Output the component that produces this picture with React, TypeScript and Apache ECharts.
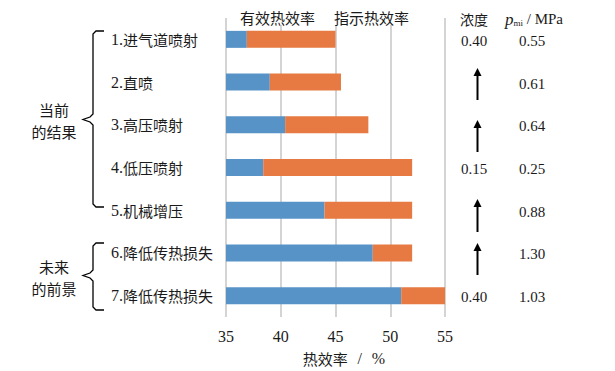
import React, { useEffect, useRef } from "react";
import * as echarts from "echarts";

const categories = ["1.进气道喷射", "2.直喷", "3.高压喷射", "4.低压喷射", "5.机械增压", "6.降低传热损失", "7.降低传热损失"];
const effective = [36.9, 39.0, 40.4, 38.4, 44.0, 48.4, 51.0];
const indicated = [45.0, 45.5, 48.0, 52.0, 52.0, 52.0, 55.0];
const concentration = ["0.40", "", "", "0.15", "", "", "0.40"];
const pmi = ["0.55", "0.61", "0.64", "0.25", "0.88", "1.30", "1.03"];
const xTicks = { min: 35, max: 55, interval: 5 };

const FONT = "Liberation Serif, Noto Sans CJK SC, serif";
const SERIF = "Liberation Serif";
const CJK = "Noto Sans CJK SC";
const BLUE = "#5893C8";
const ORANGE = "#E67A42";
const INK = "#1a1a1a";

function arrow(xc: number, tip: number, bottom: number) {
  return [
    { type: "line", shape: { x1: xc, y1: tip + 6, x2: xc, y2: bottom }, style: { stroke: "#000", lineWidth: 2 } },
    { type: "polygon", shape: { points: [[xc, tip], [xc - 4, tip + 8], [xc + 4, tip + 8]] }, style: { fill: "#000" } },
  ];
}

export default function App() {
  const ref = useRef<HTMLDivElement>(null);
  useEffect(() => {
    document.body.style.margin = "0";
    const chart = echarts.init(ref.current!, null, { renderer: "svg" });
    const diff = indicated.map((v, i) => +(v - effective[i]).toFixed(2));
    chart.setOption({
      animation: false,
      backgroundColor: "#fff",
      textStyle: { fontFamily: FONT },
      grid: { left: 226, right: 170, top: 18, bottom: 54 },
      legend: {
        data: ["有效热效率", "指示热效率"],
        icon: "none",
        itemWidth: 0,
        itemGap: 14,
        left: 233,
        top: 10,
        padding: [0, 2],
        backgroundColor: "#fff",
        textStyle: { fontSize: 15, color: INK, fontFamily: CJK },
        selectedMode: false,
      },
      xAxis: {
        type: "value",
        min: xTicks.min,
        max: xTicks.max,
        interval: xTicks.interval,
        axisLine: { show: false },
        axisTick: { show: false },
        splitLine: { show: true, lineStyle: { color: "#D4D4D4", width: 2 } },
        axisLabel: {
          margin: 11,
          formatter: (v: number) => `{v|${v}}`,
          rich: { v: { fontSize: 16, color: INK, fontFamily: SERIF } },
        },
        name: "{a|热效率}{s|   }{b|/}{s|   }{b|%}",
        nameLocation: "middle",
        nameGap: 33,
        nameTextStyle: {
          fontSize: 15,
          color: INK,
          rich: {
            a: { fontSize: 15, color: INK, fontFamily: CJK, padding: [0, 0, 0, 17] },
            s: { fontSize: 13, color: INK, fontFamily: SERIF },
            b: { fontSize: 16, color: INK, fontFamily: SERIF },
          },
        },
      },
      yAxis: [
        {
          type: "category",
          data: categories,
          inverse: true,
          axisLine: { show: false },
          axisTick: { show: false },
          splitLine: { show: false },
          axisLabel: {
            align: "left",
            margin: 115,
            formatter: (v: string) => {
              const m = v.match(/^(\d+\.)(.*)$/);
              return m ? `{n|${m[1]}}{t|${m[2]}}` : v;
            },
            rich: {
              n: { fontSize: 16, color: INK, fontFamily: SERIF },
              t: { fontSize: 15, color: INK, fontFamily: CJK },
            },
          },
        },
        {
          type: "category",
          data: categories,
          inverse: true,
          position: "right",
          axisLine: { show: false },
          axisTick: { show: false },
          splitLine: { show: false },
          axisLabel: {
            align: "left",
            margin: 16,
            formatter: (_v: string, i: number) => `{c|${concentration[i] || " "}}{p|${pmi[i]}}`,
            rich: {
              c: { width: 58, fontSize: 15, color: INK, fontFamily: SERIF, padding: [3, 0, 0, 0] },
              p: { fontSize: 15, color: INK, fontFamily: SERIF, padding: [3, 0, 0, 0] },
            },
          },
        },
      ],
      series: [
        {
          name: "有效热效率",
          type: "bar",
          stack: "t",
          barWidth: 17,
          data: effective,
          itemStyle: { color: BLUE },
        },
        {
          name: "指示热效率",
          type: "bar",
          stack: "t",
          barWidth: 17,
          data: diff,
          itemStyle: { color: ORANGE },
        },
      ],
      graphic: [
        {
          type: "polyline",
          shape: { points: [[104, 31], [96, 31], [93, 34], [93, 114], [90, 117], [83, 119.5], [90, 122], [93, 125], [93, 204], [96, 207], [104, 207]] },
          style: { stroke: "#000", lineWidth: 1.3, fill: null },
        },
        {
          type: "polyline",
          shape: { points: [[104, 243], [96, 243], [93, 246], [93, 270], [90, 273], [83, 275.5], [90, 278], [93, 281], [93, 307], [96, 310], [104, 310]] },
          style: { stroke: "#000", lineWidth: 1.3, fill: null },
        },
        { type: "text", x: 54, y: 109, style: { text: "当前", fontSize: 15, fill: INK, fontFamily: CJK, align: "center", verticalAlign: "middle" } },
        { type: "text", x: 54, y: 131, style: { text: "的结果", fontSize: 15, fill: INK, fontFamily: CJK, align: "center", verticalAlign: "middle" } },
        { type: "text", x: 54, y: 266, style: { text: "未来", fontSize: 15, fill: INK, fontFamily: CJK, align: "center", verticalAlign: "middle" } },
        { type: "text", x: 54, y: 288, style: { text: "的前景", fontSize: 15, fill: INK, fontFamily: CJK, align: "center", verticalAlign: "middle" } },
        { type: "text", x: 460, y: 19, style: { text: "浓度", fontSize: 14, fill: INK, fontFamily: CJK, verticalAlign: "middle" } },
        {
          type: "text",
          x: 505,
          y: 19,
          style: {
            text: "{p|p}{s|mi}{u| / MPa}",
            verticalAlign: "middle",
            rich: {
              p: { fontSize: 17, fontStyle: "italic", fontFamily: SERIF, fill: INK },
              s: { fontSize: 9, fontFamily: SERIF, fill: INK, padding: [8, 0, 0, 0] },
              u: { fontSize: 15, fontFamily: SERIF, fill: INK },
            },
          },
        },
        ...arrow(477.5, 68, 100),
        ...arrow(477.5, 120, 152),
        ...arrow(477.5, 199, 232),
        ...arrow(477.5, 243, 275),
      ],
    });
    return () => chart.dispose();
  }, []);
  return <div ref={ref} style={{ width: 615, height: 371 }} />;
}
